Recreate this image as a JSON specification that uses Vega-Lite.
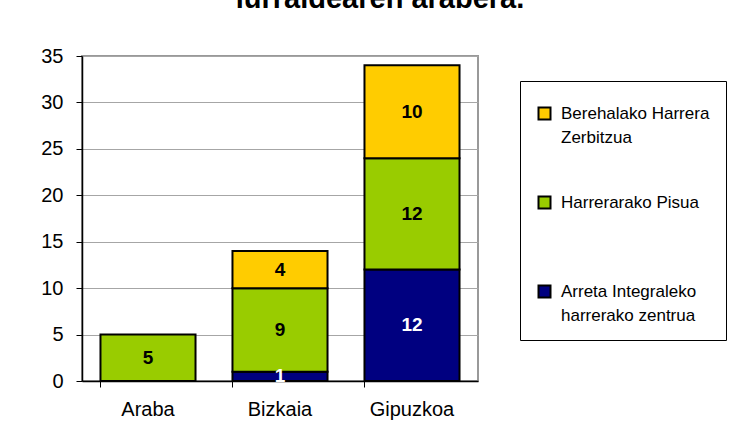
{
  "$schema": "https://vega.github.io/schema/vega-lite/v6.json",
  "width": 396,
  "height": 325,
  "autosize": "none",
  "padding": {"left": 82, "top": 56, "right": 255, "bottom": 57},
  "background": "white",
  "title": {
    "text": "lurraldearen arabera.",
    "font": "Liberation Sans",
    "fontSize": 29,
    "fontWeight": "bold",
    "color": "black",
    "anchor": "middle",
    "baseline": "alphabetic",
    "offset": 20,
    "dx": 100,
    "dy": 11
  },
  "data": {
    "values": [
      {"Lurraldea": "Araba", "Zerbitzua": "Harrerarako Pisua", "Balioa": 5},
      {"Lurraldea": "Bizkaia", "Zerbitzua": "Arreta Integraleko harrerako zentrua", "Balioa": 1},
      {"Lurraldea": "Bizkaia", "Zerbitzua": "Harrerarako Pisua", "Balioa": 9},
      {"Lurraldea": "Bizkaia", "Zerbitzua": "Berehalako Harrera Zerbitzua", "Balioa": 4},
      {"Lurraldea": "Gipuzkoa", "Zerbitzua": "Arreta Integraleko harrerako zentrua", "Balioa": 12},
      {"Lurraldea": "Gipuzkoa", "Zerbitzua": "Harrerarako Pisua", "Balioa": 12},
      {"Lurraldea": "Gipuzkoa", "Zerbitzua": "Berehalako Harrera Zerbitzua", "Balioa": 10}
    ]
  },
  "transform": [
    {"calculate": "indexof(['Arreta Integraleko harrerako zentrua','Harrerarako Pisua','Berehalako Harrera Zerbitzua'], datum.Zerbitzua)", "as": "ord"},
    {"stack": "Balioa", "groupby": ["Lurraldea"], "sort": [{"field": "ord", "order": "ascending"}], "as": ["y0", "y1"]},
    {"calculate": "(datum.y0 + datum.y1) / 2", "as": "ymid"}
  ],
  "layer": [
    {
      "mark": {"type": "bar", "stroke": "black", "strokeWidth": 2},
      "encoding": {
        "x": {
          "field": "Lurraldea", "type": "nominal", "sort": ["Araba", "Bizkaia", "Gipuzkoa"],
          "scale": {"paddingInner": 0.28, "paddingOuter": 0.14},
          "axis": {
            "title": null, "labelAngle": 0, "bandPosition": 0,
            "labelFont": "Liberation Sans", "labelFontSize": 20, "labelColor": "black",
            "domainColor": "black", "domainWidth": 1.5, "tickColor": "black", "tickSize": 6,
            "labelPadding": 12, "grid": false
          }
        },
        "y": {
          "field": "y1", "type": "quantitative",
          "scale": {"domain": [0, 35], "nice": false},
          "axis": {
            "title": null, "values": [0, 5, 10, 15, 20, 25, 30, 35],
            "labelFont": "Liberation Sans", "labelFontSize": 20, "labelColor": "black",
            "domainColor": "black", "domainWidth": 1.5, "tickColor": "black", "tickSize": 6,
            "labelPadding": 13, "grid": true, "gridColor": "#a6a6a6", "gridWidth": 1
          }
        },
        "y2": {"field": "y0"},
        "color": {
          "field": "Zerbitzua", "type": "nominal",
          "scale": {
            "domain": ["Berehalako Harrera Zerbitzua", "Harrerarako Pisua", "Arreta Integraleko harrerako zentrua"],
            "range": ["#FFCC00", "#99CC00", "#000080"]
          },
          "legend": {
            "title": null,
            "orient": "none",
            "legendX": 438,
            "legendY": 25,
            "strokeColor": "black",
            "padding": 16,
            "symbolType": "M-1,0.33H1V2.33H-1Z",
            "symbolSize": 144,
            "symbolStrokeColor": "black",
            "symbolStrokeWidth": 2,
            "labelFont": "Liberation Sans",
            "labelFontSize": 17,
            "labelColor": "black",
            "labelLimit": 300,
            "labelBaseline": "top",
            "labelOffset": 8,
            "rowPadding": 40,
            "labelExpr": "datum.label == 'Berehalako Harrera Zerbitzua' ? ['Berehalako Harrera', 'Zerbitzua'] : datum.label == 'Harrerarako Pisua' ? ['Harrerarako Pisua', ''] : ['Arreta Integraleko', 'harrerako zentrua']"
          }
        }
      }
    },
    {
      "mark": {"type": "text", "font": "Liberation Sans", "fontSize": 19, "fontWeight": "bold", "baseline": "middle"},
      "encoding": {
        "x": {"field": "Lurraldea", "type": "nominal", "sort": ["Araba", "Bizkaia", "Gipuzkoa"]},
        "y": {"field": "ymid", "type": "quantitative"},
        "text": {"field": "Balioa", "type": "quantitative"},
        "color": {
          "condition": {"test": "datum.Zerbitzua === 'Arreta Integraleko harrerako zentrua'", "value": "white"},
          "value": "black"
        }
      }
    }
  ],
  "config": {
    "view": {"stroke": "#999999", "strokeWidth": 2},
    "style": {"guide-label": {"lineHeight": 24}}
  }
}
